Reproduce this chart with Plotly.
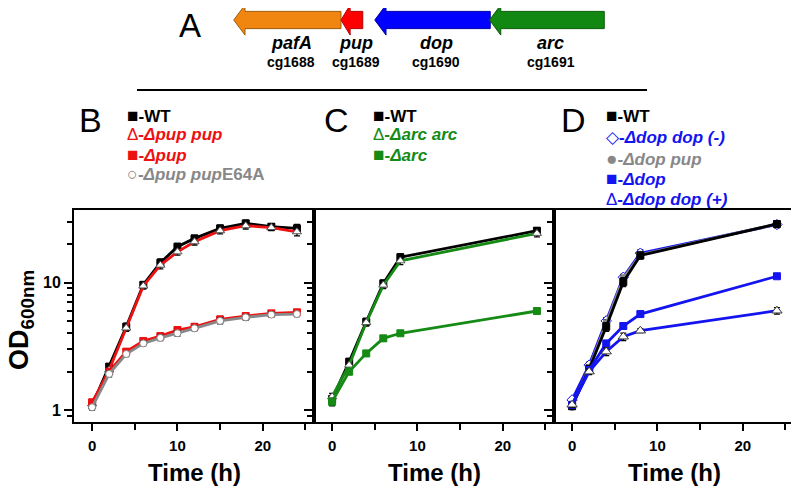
import plotly.graph_objects as go

# ---------------- data ----------------
# Panel B
time_B = [0, 2, 4, 6, 8, 10, 12, 15, 18, 21, 24]
B_WT = [1.09, 2.19, 4.5, 9.6, 14.3, 19.1, 22.2, 26.6, 29.1, 27.4, 26.6]
B_WT_err = [0.05, 0.12, 0.3, 0.5, 1.0, 1.2, 1.2, 1.6, 1.8, 1.5, 2.0]
B_pup_pup = [1.12, 2.06, 4.4, 9.4, 13.7, 17.4, 20.9, 25.5, 27.9, 27.0, 25.0]
B_pup_pup_err = [0.05, 0.1, 0.25, 0.5, 0.9, 1.0, 1.2, 1.4, 1.6, 1.4, 1.8]
B_pup = [1.15, 2.0, 2.87, 3.48, 3.8, 4.24, 4.5, 5.14, 5.46, 5.73, 5.84]
B_pup_err = [0.05, 0.1, 0.15, 0.18, 0.2, 0.22, 0.25, 0.28, 0.3, 0.3, 0.3]
B_E64A = [1.05, 1.92, 2.75, 3.33, 3.68, 4.0, 4.37, 5.0, 5.33, 5.6, 5.66]
B_E64A_err = [0.05, 0.1, 0.12, 0.15, 0.18, 0.2, 0.2, 0.25, 0.25, 0.25, 0.25]

# Panel C
time_C = [0, 2, 4, 6, 8, 24]
C_WT = [1.22, 2.39, 4.93, 9.86, 15.8, 25.5]
C_WT_err = [0.08, 0.15, 0.3, 0.6, 1.0, 1.5]
C_arc_arc = [1.27, 2.25, 4.85, 9.55, 14.8, 24.3]
C_arc_arc_err = [0.08, 0.15, 0.3, 0.6, 1.0, 1.5]
C_arc = [1.16, 2.0, 2.78, 3.65, 4.0, 5.98]
C_arc_err = [0.08, 0.1, 0.12, 0.15, 0.15, 0.25]

# Panel D
time_D = [0, 2, 4, 6, 8, 24]
D_WT = [1.07, 2.1, 4.5, 10.1, 16.3, 28.8]
D_WT_err = [0.05, 0.12, 0.35, 0.8, 1.0, 1.8]
D_dop_minus = [1.2, 2.25, 5.0, 11.0, 17.0, 28.5]
D_dop_minus_err = [0.05, 0.12, 0.3, 0.6, 1.0, 1.5]
D_dop_pup = [1.06, 2.15, 4.79, 10.8, 16.5, 28.8]
D_dop_pup_err = [0.05, 0.12, 0.3, 0.6, 1.0, 1.5]
D_dop = [1.1, 2.06, 3.33, 4.56, 5.66, 11.2]
D_dop_err = [0.05, 0.1, 0.15, 0.15, 0.15, 0.3]
D_dop_plus = [1.1, 2.0, 2.87, 3.76, 4.19, 6.01]
D_dop_plus_err = [0.05, 0.1, 0.2, 0.25, 0.15, 0.35]

# Gene map (panel A), schematic kb coordinates; arrows point left
gene_names = ["pafA", "pup", "dop", "arc"]
gene_loci = ["cg1688", "cg1689", "cg1690", "cg1691"]
gene_left = [2.13, 3.56, 4.01, 5.54]
gene_right = [3.56, 3.85, 5.55, 7.07]

# tick labels
x_tickvals = [0, 10, 20]
x_minor = [5, 15, 25]
y_tickvals = [1, 10]
y_ticktext = ["1", "10"]
y_minor = [0.9, 2, 3, 4, 5, 6, 7, 8, 9, 20, 30]

# ---------------- styles ----------------
RED = "#ee1111"
GRAY = "#888888"
GREEN = "#158a15"
BLUE = "#1414f0"
ORANGE = "#f0860f"
FONT = "Arial, Liberation Sans, sans-serif"

OFF = 8  # page body margin of the html page
W, H = 799 - OFF, 490 - OFF
ML, MR, MB, MT = 74 - OFF, 5, 68, 0
PW = W - ML - MR
PH = H - MT - MB


def px(x):
    return (x - OFF - ML) / PW


def py(y):
    return (H - MB - (y - OFF)) / PH


PANEL_TOP = py(210)

fig = go.Figure()


def add_series(t, v, e, axis, color, symbol, mfill, mline, size=7, lw=2.8):
    fig.add_trace(go.Scatter(
        x=t, y=v, mode="lines+markers",
        xaxis="x" + axis, yaxis="y" + axis,
        line=dict(color=color, width=lw),
        marker=dict(symbol=symbol, size=size, color=mfill,
                    line=dict(color=mline, width=1)),
        error_y=dict(type="data", array=e, visible=True, color="black",
                     thickness=1.3, width=3),
        showlegend=False, cliponaxis=False,
    ))


# Panel B
add_series(time_B, B_WT, B_WT_err, "", "black", "square", "black", "black")
add_series(time_B, B_pup_pup, B_pup_pup_err, "", RED, "triangle-up", "white", "#555555", size=8)
add_series(time_B, B_pup, B_pup_err, "", RED, "square", RED, RED)
add_series(time_B, B_E64A, B_E64A_err, "", GRAY, "circle", "white", GRAY)

# Panel C
add_series(time_C, C_WT, C_WT_err, "2", "black", "square", "black", "black")
add_series(time_C, C_arc_arc, C_arc_arc_err, "2", GREEN, "triangle-up", "white", "#555555", size=8)
add_series(time_C, C_arc, C_arc_err, "2", GREEN, "square", GREEN, GREEN)

# Panel D
add_series(time_D, D_dop_minus, D_dop_minus_err, "3", BLUE, "diamond", "white", BLUE, size=8)
add_series(time_D, D_dop_pup, D_dop_pup_err, "3", GRAY, "circle", GRAY, GRAY)
add_series(time_D, D_WT, D_WT_err, "3", "black", "square", "black", "black")
add_series(time_D, D_dop, D_dop_err, "3", BLUE, "square", BLUE, BLUE)
add_series(time_D, D_dop_plus, D_dop_plus_err, "3", BLUE, "triangle-up", "white", "#333333", size=9)

# Gene arrows
gene_colors = [ORANGE, "#ff0000", "#0000ff", "#118811"]
gene_edges = ["#a05a08", "#b00000", "#0000a0", "#0a5a0a"]
GENE_RANGE = 9.6
for name, lft, rgt, fc, ec in zip(gene_names, gene_left, gene_right, gene_colors, gene_edges):
    head = min(0.15, 0.42 * (rgt - lft))
    hs, hh = 0.28, 0.49
    xs = [lft, lft + head, lft + head, rgt, rgt, lft + head, lft + head, lft]
    ys = [0, hh, hs, hs, -hs, -hs, -hh, 0]
    fig.add_trace(go.Scatter(x=xs, y=ys, xaxis="x4", yaxis="y4", mode="lines",
                             fill="toself", fillcolor=fc,
                             line=dict(color=ec, width=1),
                             showlegend=False, hoverinfo="skip"))

xa_common = dict(
    range=[-2.12, 26.0], showline=True, linecolor="black", linewidth=2,
    mirror=True, ticks="outside", ticklen=7, tickwidth=2, tickcolor="black",
    tickvals=x_tickvals, ticktext=[str(v) for v in x_tickvals],
    minor=dict(tickvals=x_minor, ticks="outside", ticklen=6, tickwidth=2, tickcolor="black"),
    tickfont=dict(family=FONT, size=15, color="black", weight="bold"),
    ticklabelstandoff=2,
    showgrid=False, zeroline=False, fixedrange=True,
)
ya_common = dict(
    type="log", range=[-0.094, 1.569], domain=[0, PANEL_TOP],
    showline=True, linecolor="black", linewidth=2, mirror=True,
    ticks="outside", ticklen=8, tickwidth=2, tickcolor="black",
    tickvals=y_tickvals, ticktext=y_ticktext,
    minor=dict(tickvals=y_minor, ticks="outside", ticklen=5, tickwidth=1.5, tickcolor="black"),
    tickfont=dict(family=FONT, size=16, color="black", weight="bold"),
    showgrid=False, zeroline=False, fixedrange=True,
)

fig.update_layout(
    width=W, height=H, template="none",
    paper_bgcolor="white", plot_bgcolor="white",
    margin=dict(l=ML, r=MR, t=MT, b=MB),
    xaxis=dict(domain=[0, 1 / 3], anchor="y", **xa_common),
    xaxis2=dict(domain=[1 / 3, 2 / 3], anchor="y2", **xa_common),
    xaxis3=dict(domain=[2 / 3, 1], anchor="y3", **xa_common),
    yaxis=dict(anchor="x", **ya_common),
    yaxis2=dict(anchor="x2", showticklabels=False, **ya_common),
    yaxis3=dict(anchor="x3", showticklabels=False, **ya_common),
    xaxis4=dict(domain=[0, 1], anchor="y4", range=[0, GENE_RANGE], visible=False, fixedrange=True),
    yaxis4=dict(domain=[py(40), 1], anchor="x4", range=[-0.65, 0.65 - 0.65 * 2 * OFF / 40],
                visible=False, fixedrange=True),
    showlegend=False,
)

ann = []


def text(x, y, t, size, color="black", xanchor="center", angle=0, weight="normal"):
    ann.append(dict(x=px(x), y=py(y), xref="paper", yref="paper", text=t,
                    showarrow=False, xanchor=xanchor, yanchor="middle",
                    textangle=angle,
                    font=dict(family=FONT, size=size, color=color, weight=weight)))


# panel letters
text(190, 26, "A", 33)
text(90, 120, "B", 34)
text(336, 120, "C", 34)
text(573, 120, "D", 34)

# gene labels
for name, locus, lft, rgt in zip(gene_names, gene_loci, gene_left, gene_right):
    cx = 74 + (lft + rgt) / 2 * 720 / GENE_RANGE + 4
    text(cx, 43, "<i>" + name + "</i>", 18, weight="bold")
    text(cx, 62, locus, 14, weight="bold")

fig.add_shape(type="line", xref="paper", yref="paper",
              x0=px(137), x1=px(647), y0=py(90), y1=py(90),
              line=dict(color="black", width=2))


def glyph(g, size=19):
    return "<span style='font-size:%dpx'>%s</span>" % (size, g)


# legends
LS = 17
text(125, 115, glyph("■") + "<b>-WT</b>", LS, xanchor="left")
text(125, 134, glyph("Δ", 17) + "<b>-<i>Δpup pup</i></b>", LS, RED, xanchor="left")
text(125, 154, glyph("■") + "<b>-<i>Δpup</i></b>", LS, RED, xanchor="left")
text(125, 174, glyph("○", 18) + "<b>-<i>Δpup pup</i>E64A</b>", LS, GRAY, xanchor="left")

text(371, 115, glyph("■") + "<b>-WT</b>", LS, xanchor="left")
text(371, 134, glyph("Δ", 17) + "<b>-<i>Δarc arc</i></b>", LS, GREEN, xanchor="left")
text(371, 154, glyph("■") + "<b>-<i>Δarc</i></b>", LS, GREEN, xanchor="left")

text(604, 115, glyph("■") + "<b>-WT</b>", LS, xanchor="left")
text(604, 137, glyph("◇", 17) + "<b>-<i>Δdop dop (-)</i></b>", LS, BLUE, xanchor="left")
text(604, 158, glyph("●", 19) + "<b>-<i>Δdop pup</i></b>", LS, GRAY, xanchor="left")
text(604, 179, glyph("■") + "<b>-<i>Δdop</i></b>", LS, BLUE, xanchor="left")
text(604, 200, glyph("Δ", 17) + "<b>-<i>Δdop dop (+)</i></b>", LS, BLUE, xanchor="left")

# axis titles
for cx in (194, 434, 674):
    text(cx, 472, "Time (h)", 24, weight="bold")
text(21, 320, "OD<sub>600nm</sub>", 27, angle=-90, weight="bold")

fig.update_layout(annotations=ann)

fig.write_html("out.html")
